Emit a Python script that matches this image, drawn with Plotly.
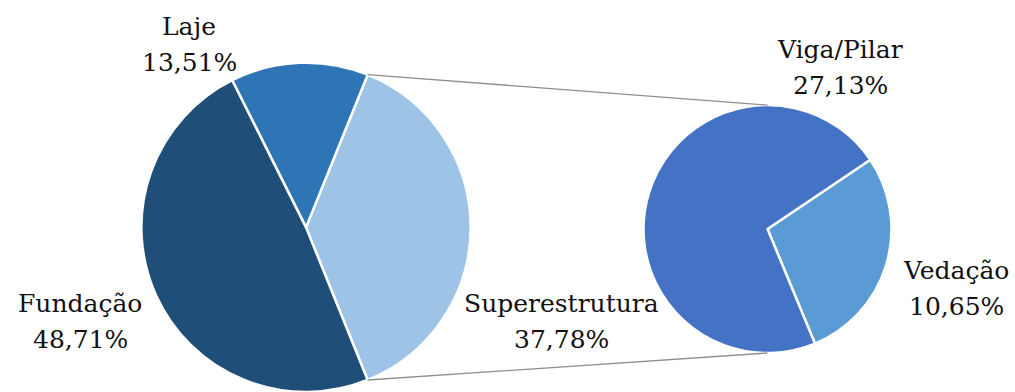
import math
import plotly.graph_objects as go

# Main pie: share of each building stage (%)
main_labels = ["Superestrutura", "Laje", "Fundação"]
main_values = [37.78, 13.51, 48.71]
main_colors = ["#9DC3E6", "#2E75B6", "#1F4E79"]

# Secondary pie: breakdown of Superestrutura (%)
sub_labels = ["Vedação", "Viga/Pilar"]
sub_values = [10.65, 27.13]
sub_colors = ["#5B9BD5", "#4472C4"]

W, H = 1015, 392

# pie domains in paper coordinates
main_dom = dict(x=[141 / W, 471 / W], y=[0.0, 0.84])
sub_dom = dict(x=[643.5 / W, 891.5 / W], y=[0.0995, 0.732])

# Superestrutura slice centred on the horizontal axis, facing the sub pie;
# in counterclockwise mode the rotation marks the end of the first slice
sup_share = main_values[0] / sum(main_values)
main_rot = 90 - sup_share * 180
sub_start = -67.5
ved_share = sub_values[0] / sum(sub_values)
sub_rot = 90 - (sub_start + ved_share * 360)

fig = go.Figure()
fig.add_trace(go.Pie(
    labels=main_labels, values=main_values, sort=False,
    direction="counterclockwise", rotation=main_rot,
    marker=dict(colors=main_colors, line=dict(color="white", width=2.5)),
    textinfo="none", hoverinfo="label+value", domain=main_dom,
))
fig.add_trace(go.Pie(
    labels=sub_labels, values=sub_values, sort=False,
    direction="counterclockwise", rotation=sub_rot,
    marker=dict(colors=sub_colors, line=dict(color="white", width=2.5)),
    textinfo="none", hoverinfo="label+value", domain=sub_dom,
))


def pie_geom(dom):
    x0, x1 = dom["x"][0] * W, dom["x"][1] * W
    y0, y1 = (1 - dom["y"][1]) * H, (1 - dom["y"][0]) * H
    r = min(x1 - x0, y1 - y0) / 2
    return (x0 + x1) / 2, (y0 + y1) / 2, r


mcx, mcy, mr = pie_geom(main_dom)
scx, scy, sr = pie_geom(sub_dom)
half = sup_share * math.pi  # half-angle of the Superestrutura slice

# connector lines from the Superestrutura slice edges to the sub pie
ends = [
    ((mcx + mr * math.cos(half), mcy - mr * math.sin(half)), (scx, scy - sr)),
    ((mcx + mr * math.cos(-half), mcy - mr * math.sin(-half)), (scx, scy + sr)),
]
for (ax, ay), (bx, by) in ends:
    fig.add_shape(type="line", xref="paper", yref="paper",
                  x0=ax / W, y0=1 - ay / H, x1=bx / W, y1=1 - by / H,
                  line=dict(color="#8f8f8f", width=1.3))


def pct(v):
    return f"{v:.2f}".replace(".", ",") + "%"


# label placement (pixel centre x, first-line baseline y)
label_pos = {
    "Laje": (189, 37),
    "Fundação": (80, 313),
    "Superestrutura": (561, 313),
    "Viga/Pilar": (840, 60),
    "Vedação": (956, 280),
}
line_gap = 36
serif = "DejaVu Serif, serif"
font = dict(family=serif, size=25, color="#111111")

for name, val in list(zip(main_labels, main_values)) + list(zip(sub_labels, sub_values)):
    px, py = label_pos[name]
    for i, txt in enumerate([name, pct(val)]):
        fig.add_annotation(
            x=px / W, y=1 - (py + i * line_gap - 10) / H, xref="paper", yref="paper",
            text=txt, showarrow=False, xanchor="center", yanchor="middle", font=font,
        )

fig.update_layout(
    width=W, height=H, margin=dict(l=0, r=0, t=0, b=0),
    font=dict(family=serif),
    showlegend=False, paper_bgcolor="white", plot_bgcolor="white",
)
fig.write_html("out.html")
